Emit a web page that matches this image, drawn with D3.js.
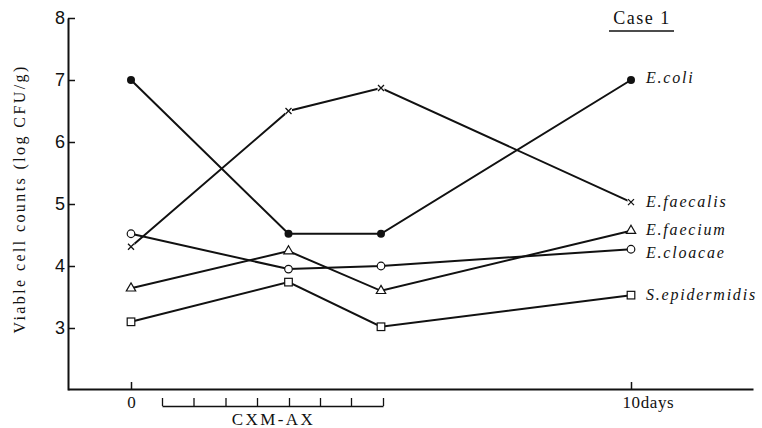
<!DOCTYPE html>
<html>
<head>
<meta charset="utf-8">
<script src="https://cdn.jsdelivr.net/npm/d3@7"></script>
<style>
  html, body { margin: 0; padding: 0; background: #fff; }
  svg { display: block; }
  text { font-family: "Liberation Serif", "DejaVu Serif", serif; fill: #111; }
</style>
</head>
<body>
<svg id="chart" width="762" height="428"></svg>
<script>
// ---- data ----
const days = [0, 3.15, 5, 10];
const seriesNames = ["E.coli", "E.faecalis", "E.faecium", "E.cloacae", "S.epidermidis"];
const ecoli = [7.0, 4.52, 4.52, 7.0];
const efaecalis = [4.31, 6.5, 6.87, 5.03];
const efaecium = [3.64, 4.24, 3.6, 4.57];
const ecloacae = [4.52, 3.95, 4.0, 4.27];
const sepidermidis = [3.1, 3.74, 3.02, 3.53];
const markers = ["dot", "cross", "triangle", "circle", "square"];
const yTicks = [3, 4, 5, 6, 7, 8];
const xTicks = [0, 10];
const xTickLabels = ["0", "10days"];
const treatmentTicks = [0.62, 1.25, 1.89, 2.52, 3.16, 3.78, 4.4, 5.04];
const treatmentLabel = "CXM-AX";
const yTitle = "Viable cell counts (log CFU/g)";
const caseLabel = "Case 1";

const allValues = [ecoli, efaecalis, efaecium, ecloacae, sepidermidis];

// ---- scales ----
const svg = d3.select("#chart");
const x = d3.scaleLinear().domain([-1.26, 12.44]).range([68, 753]);
const y = d3.scaleLinear().domain([2, 8]).range([390, 18]);

// ---- y axis ----
const yAxis = svg.append("g")
  .attr("transform", "translate(68,0)")
  .call(d3.axisLeft(y).tickValues(yTicks).tickSizeInner(-7).tickSizeOuter(0).tickPadding(3).tickFormat(d3.format("d")));
yAxis.select(".domain").attr("stroke", "#111").attr("stroke-width", 2);
yAxis.selectAll(".tick line").attr("stroke", "#111").attr("stroke-width", 1.5);
yAxis.selectAll(".tick text").style("font-family", "Liberation Sans Narrow, Liberation Sans, sans-serif").style("font-size", "18px").attr("fill", "#111");

// ---- x axis ----
const xAxis = svg.append("g")
  .attr("transform", "translate(0,389)")
  .call(d3.axisBottom(x).tickValues(xTicks).tickSizeInner(-7).tickSizeOuter(0).tickPadding(7)
    .tickFormat((d, i) => xTickLabels[i]));
xAxis.select(".domain").attr("stroke", "#111").attr("stroke-width", 2);
xAxis.selectAll(".tick line").attr("stroke", "#111").attr("stroke-width", 1.5);
xAxis.selectAll(".tick text").style("font-family", "Liberation Serif, serif").style("font-size", "17px").attr("fill", "#111")
  .style("letter-spacing", (d, i) => i === 1 ? "0.6px" : "0px")
  .attr("text-anchor", (d, i) => i === 1 ? "start" : "middle")
  .attr("x", (d, i) => i === 1 ? -9 : 0);

// ---- treatment bracket ----
const tScale = x.copy().domain([treatmentTicks[0], treatmentTicks[treatmentTicks.length - 1]])
  .range([x(treatmentTicks[0]), x(treatmentTicks[treatmentTicks.length - 1])]);
const tAxis = svg.append("g")
  .attr("transform", "translate(0,406)")
  .call(d3.axisTop(tScale).tickValues(treatmentTicks).tickSizeInner(8).tickSizeOuter(0).tickFormat(""));
tAxis.select(".domain").attr("stroke", "#111").attr("stroke-width", 1.6);
tAxis.selectAll(".tick line").attr("stroke", "#111").attr("stroke-width", 1.3);
svg.append("text")
  .attr("x", (x(treatmentTicks[0]) + x(treatmentTicks[treatmentTicks.length - 1])) / 2 + 1)
  .attr("y", 425)
  .attr("text-anchor", "middle")
  .style("font-size", "17px")
  .style("letter-spacing", "2.4px")
  .text(treatmentLabel);

// ---- y title ----
svg.append("text")
  .attr("transform", "translate(25,199) rotate(-90)")
  .attr("text-anchor", "middle")
  .style("font-size", "16px")
  .style("letter-spacing", "2.4px")
  .text(yTitle);

// ---- case label ----
svg.append("text")
  .attr("x", 642).attr("y", 24)
  .attr("text-anchor", "middle")
  .style("font-size", "18px")
  .style("letter-spacing", "1.5px")
  .text(caseLabel);
svg.append("line").attr("x1", 609).attr("x2", 674).attr("y1", 31).attr("y2", 31)
  .attr("stroke", "#111").attr("stroke-width", 1.5);

// ---- lines ----
const line = d3.line().x((d, i) => x(days[i])).y(d => y(d));
allValues.forEach(vals => {
  svg.append("path")
    .attr("d", line(vals))
    .attr("fill", "none")
    .attr("stroke", "#111")
    .attr("stroke-width", 2);
});

// ---- markers ----
function drawMarker(g, type, cx, cy) {
  if (type === "dot") {
    g.append("circle").attr("cx", cx).attr("cy", cy).attr("r", 4).attr("fill", "#111");
  } else if (type === "circle") {
    g.append("circle").attr("cx", cx).attr("cy", cy).attr("r", 3.8).attr("fill", "#fff").attr("stroke", "#111").attr("stroke-width", 1.2);
  } else if (type === "square") {
    g.append("rect").attr("x", cx - 3.8).attr("y", cy - 3.8).attr("width", 7.6).attr("height", 7.6).attr("fill", "#fff").attr("stroke", "#111").attr("stroke-width", 1.2);
  } else if (type === "triangle") {
    g.append("path").attr("d", d3.symbol(d3.symbolTriangle, 38)()).attr("transform", `translate(${cx},${cy})`)
      .attr("fill", "#fff").attr("stroke", "#111").attr("stroke-width", 1.2);
  } else if (type === "cross") {
    g.append("rect").attr("x", cx - 3.5).attr("y", cy - 3.5).attr("width", 7).attr("height", 7).attr("fill", "#fff");
    g.append("path").attr("d", `M${cx - 3},${cy - 3}L${cx + 3},${cy + 3}M${cx - 3},${cy + 3}L${cx + 3},${cy - 3}`)
      .attr("stroke", "#111").attr("stroke-width", 1.3);
  }
}
allValues.forEach((vals, s) => {
  const g = svg.append("g");
  vals.forEach((v, i) => drawMarker(g, markers[s], x(days[i]), y(v)));
});

// ---- series labels ----
const labelY = [83, 207, 235, 258, 300];
seriesNames.forEach((name, s) => {
  svg.append("text")
    .attr("x", x(days[3]) + 15)
    .attr("y", labelY[s])
    .style("font-size", "16px")
    .style("font-style", "italic")
    .style("letter-spacing", "1.8px")
    .text(name);
});
</script>
</body>
</html>
